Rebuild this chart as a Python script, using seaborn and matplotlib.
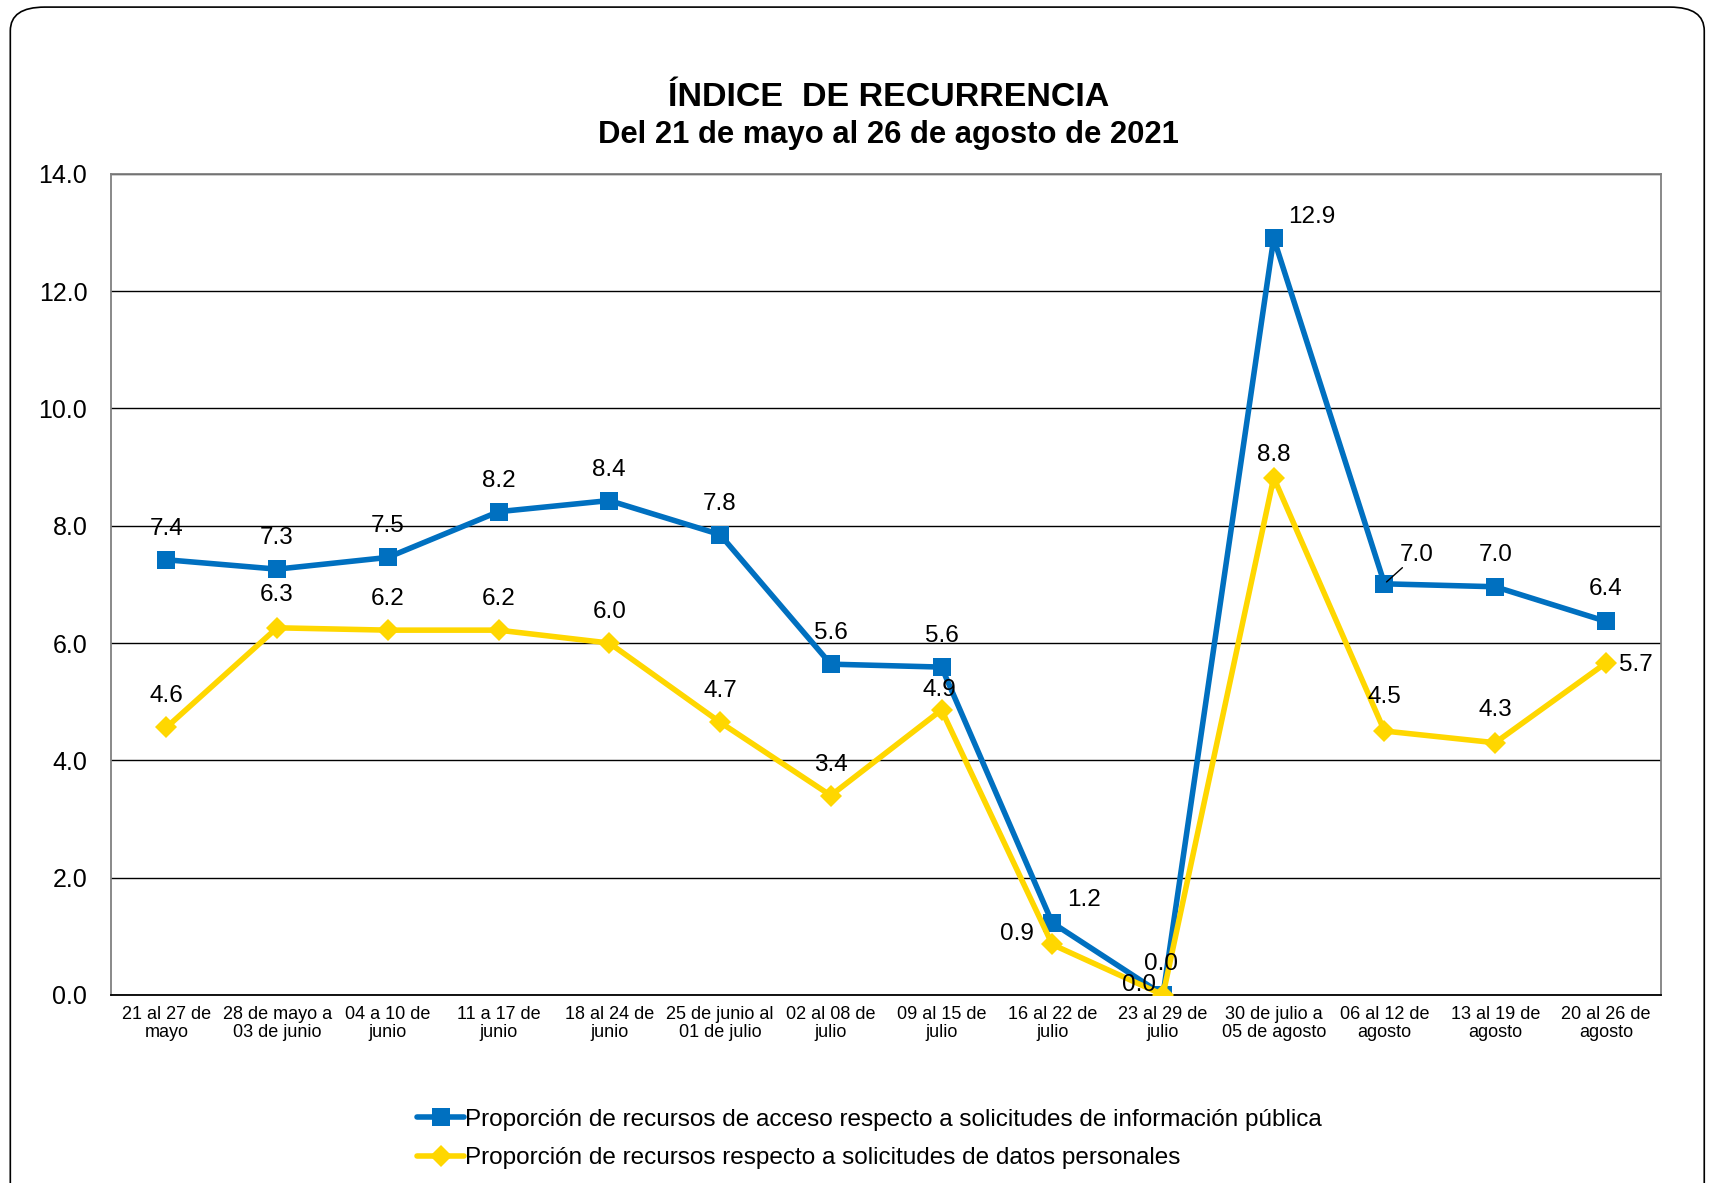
import numpy as np
import pandas as pd
import seaborn as sns
import matplotlib.pyplot as plt
from matplotlib.patches import FancyBboxPatch

semanas = ['21 al 27 de\nmayo', '28 de mayo a\n03 de junio', '04 a 10 de\njunio', '11 a 17 de\njunio',
           '18 al 24 de\njunio', '25 de junio al\n01 de julio', '02 al 08 de\njulio', '09 al 15 de\njulio',
           '16 al 22 de\njulio', '23 al 29 de\njulio', '30 de julio a\n05 de agosto', '06 al 12 de\nagosto',
           '13 al 19 de\nagosto', '20 al 26 de\nagosto']
acceso = [7.42, 7.26, 7.46, 8.24, 8.43, 7.85, 5.64, 5.59, 1.23, 0.0, 12.9, 7.01, 6.96, 6.37]
datos = [4.56, 6.26, 6.22, 6.22, 6.0, 4.65, 3.40, 4.86, 0.86, 0.0, 8.82, 4.5, 4.30, 5.66]
nombre_acceso = 'Proporción de recursos de acceso respecto a solicitudes de información pública'
nombre_datos = 'Proporción de recursos respecto a solicitudes de datos personales'

azul = '#0070C0'
amarillo = '#FFD700'

df = pd.DataFrame({'x': np.arange(len(semanas)), 'acceso': acceso, 'datos': datos})

sns.set_style('white')
plt.rcParams['font.family'] = ['Liberation Sans', 'DejaVu Sans']
plt.rcParams['text.color'] = 'black'
plt.rcParams['xtick.color'] = 'black'
plt.rcParams['ytick.color'] = 'black'

fig = plt.figure(figsize=(17.18, 11.83), dpi=100)
ax = fig.add_axes([0.0646, 0.159, 0.9024, 0.694])

# marco redondeado
fig.patches.append(FancyBboxPatch((0.006, -0.02), 0.986, 1.014, boxstyle='round,pad=0,rounding_size=0.02',
                                  transform=fig.transFigure, fill=False, edgecolor='black', linewidth=1.2))

sns.lineplot(data=df, x='x', y='acceso', ax=ax, color=azul, linewidth=4, marker='s', markersize=13,
             markeredgewidth=0, label=nombre_acceso, zorder=3)
sns.lineplot(data=df, x='x', y='datos', ax=ax, color=amarillo, linewidth=4, marker='D', markersize=11,
             markeredgewidth=0, label=nombre_datos, zorder=4)

ax.set_xlim(-0.5, len(semanas) - 0.5)
ax.set_ylim(0, 14)
ax.set_yticks(np.arange(0, 14.1, 2))
ax.set_yticklabels([f'{v:.1f}' for v in np.arange(0, 14.1, 2)], fontsize=18)
ax.set_xticks(df['x'])
ax.set_xticklabels(semanas, fontsize=13, linespacing=1.1)
ax.tick_params(axis='x', length=0, pad=8)
ax.tick_params(axis='y', length=0, pad=17)
ax.set_xlabel('')
ax.set_ylabel('')
ax.yaxis.grid(True, color='black', linewidth=1)
ax.set_axisbelow(True)
for s in ['top', 'right', 'left']:
    ax.spines[s].set_color('#808080')
ax.spines['bottom'].set_color('black')
for s in ax.spines.values():
    s.set_linewidth(1.3)

# desplazamiento de etiquetas (pixeles)
off_acceso = [(0, 31), (0, 31), (0, 31), (0, 31), (0, 31), (0, 31), (0, 31), (0, 31),
              (32, 23), (-2, 31), (38, 21), (32, 29), (0, 32), (0, 32)]
off_datos = [(0, 31), (0, 33), (0, 31), (0, 31), (0, 31), (0, 31), (0, 31), (-2, 20),
             (-35, 10), (-24, 10), (0, 23), (0, 34), (0, 33), (30, -2)]

for i in range(len(semanas)):
    ax.annotate(f'{acceso[i]:.1f}', (i, acceso[i]), xytext=off_acceso[i], textcoords='offset pixels',
                ha='center', va='center', fontsize=17.5, zorder=6)
    ax.annotate(f'{datos[i]:.1f}', (i, datos[i]), xytext=off_datos[i], textcoords='offset pixels',
                ha='center', va='center', fontsize=17.5, zorder=6)
# linea guia 7.0
ax.annotate('', (11, acceso[11]), xytext=(20, 18), textcoords='offset pixels',
            arrowprops=dict(arrowstyle='-', color='black', linewidth=1))

fig.text(0.517, 0.918, 'ÍNDICE  DE RECURRENCIA', ha='center', va='center', fontsize=24.5, fontweight='bold')
fig.text(0.517, 0.886, 'Del 21 de mayo al 26 de agosto de 2021', ha='center', va='center', fontsize=22.3,
         fontweight='bold')

ax.legend_.remove()
handles, labels = ax.get_legend_handles_labels()
fig.legend(handles, labels, loc='upper left', bbox_to_anchor=(0.237, 0.071), frameon=False, fontsize=17.5,
           handlelength=1.95, handletextpad=0.05, labelspacing=0.68, borderaxespad=0)

fig.savefig('out.png', dpi=100)
